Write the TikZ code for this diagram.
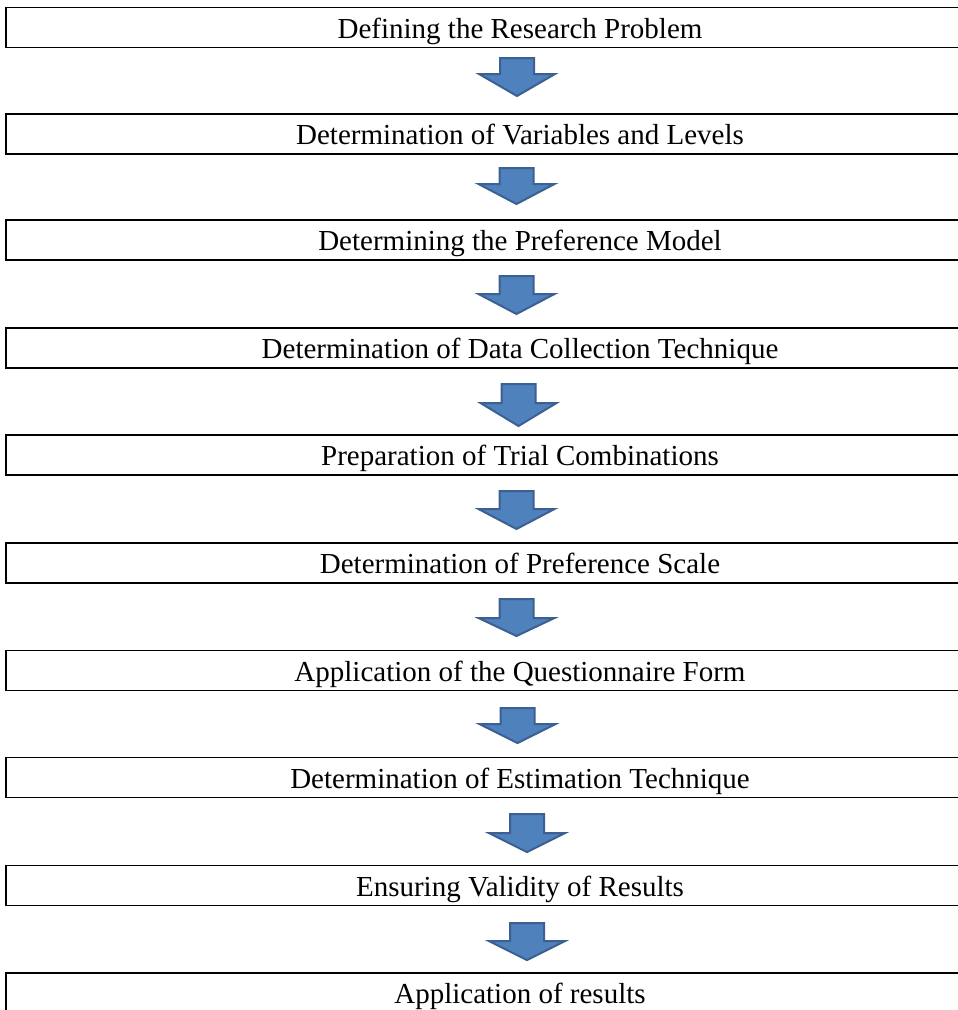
\documentclass[tikz,border=0pt]{standalone}
\usepackage{fontspec}
\setmainfont{Liberation Serif}
\definecolor{arrfill}{HTML}{4F81BD}
\definecolor{arrline}{HTML}{3B6091}
\newcommand{\blkarrow}[6]{% name, cx, top, shoulder, tip, halfwidth
  \draw[blockarrow] (#2-17,#3) -- (#2+17,#3) -- (#2+17,#4) -- (#2+#6,#4) -- (#2,#5) -- (#2-#6,#4) -- (#2-17,#4) -- cycle;
  \coordinate (#1) at (#2,#5);
}
\begin{document}
\begin{tikzpicture}[x=1pt,y=-1pt,
  stepbox/.style={draw=black, line width=1.5pt, rectangle, minimum width=1028pt, minimum height=40pt, inner sep=0pt, text height=28pt, text depth=6.4pt, font=\fontsize{29}{30}\selectfont, anchor=center},
  blockarrow/.style={fill=arrfill, draw=arrline, line width=2pt, line join=miter}]
\useasboundingbox (0,0) rectangle (958,1010);
\clip (0,0) rectangle (958,1010);
\node[stepbox] (b1) at (520,27.5) {Defining the Research Problem};
\node[stepbox] (b2) at (520,134) {Determination of Variables and Levels};
\node[stepbox] (b3) at (520,240) {Determining the Preference Model};
\node[stepbox] (b4) at (520,348) {Determination of Data Collection Technique};
\node[stepbox] (b5) at (520,455) {Preparation of Trial Combinations};
\node[stepbox] (b6) at (520,563) {Determination of Preference Scale};
\node[stepbox] (b7) at (520,670.5) {Application of the Questionnaire Form};
\node[stepbox] (b8) at (520,777.5) {Determination of Estimation Technique};
\node[stepbox] (b9) at (520,885.5) {Ensuring Validity of Results};
\node[stepbox] (b10) at (520,993) {Application of results};
\blkarrow{a1}{517}{58}{74}{96}{38}
\blkarrow{a2}{516.5}{168}{184}{204}{38}
\blkarrow{a3}{516.5}{276}{294}{314}{38}
\blkarrow{a4}{518.5}{384}{403}{426}{38}
\blkarrow{a5}{516.5}{491}{509}{529}{38}
\blkarrow{a6}{516.5}{599}{618}{636}{38}
\blkarrow{a7}{517.5}{708}{724}{743}{38}
\blkarrow{a8}{527}{814}{833}{852}{38}
\blkarrow{a9}{527}{923}{941}{960}{38}
\end{tikzpicture}
\end{document}
